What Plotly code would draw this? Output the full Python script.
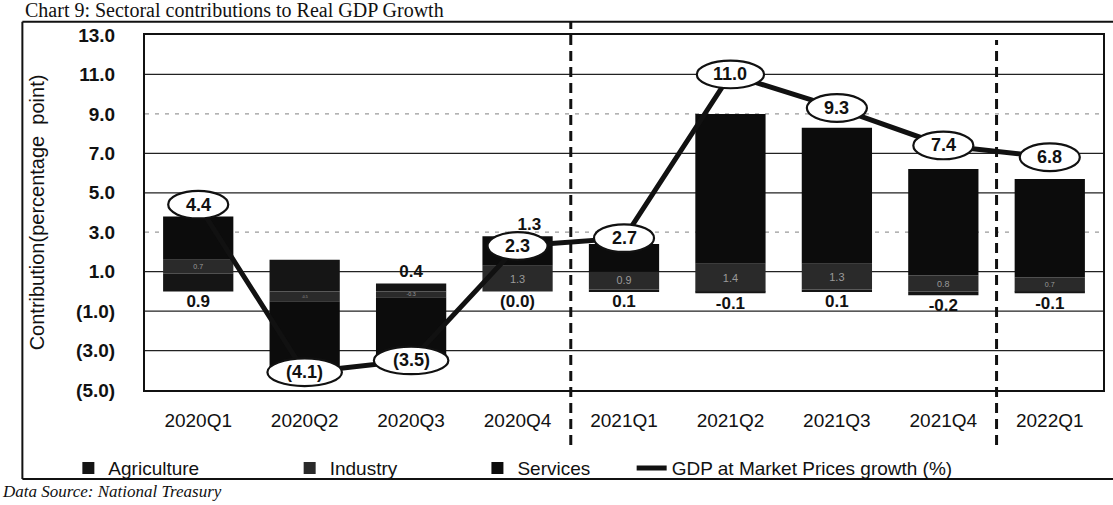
import plotly.graph_objects as go

# sectoral contributions to real GDP growth, percentage points

quarters = ["2020Q1", "2020Q2", "2020Q3", "2020Q4", "2021Q1",
            "2021Q2", "2021Q3", "2021Q4", "2022Q1"]
agriculture = [0.9, 1.6, 0.4, 0.0, 0.1, -0.1, 0.1, -0.2, -0.1]
industry = [0.7, -0.5, -0.3, 1.3, 0.9, 1.4, 1.3, 0.8, 0.7]
services = [2.2, -3.5, -3.2, 1.5, 1.4, 7.6, 6.9, 5.4, 5.0]
gdp_growth = [4.4, -4.1, -3.5, 2.3, 2.7, 11.0, 9.3, 7.4, 6.8]

agri_labels = ["0.9", "", "0.4", "(0.0)", "0.1", "-0.1", "0.1", "-0.2", "-0.1"]
ind_top_labels = ["", "", "", "1.3", "", "", "", "", ""]

y_ticks = [-5, -3, -1, 1, 3, 5, 7, 9, 11, 13]
faint_ticks = [3, 9]  # these gridlines came out faint/dotted in the print


def fmt(v):
    return f"({abs(v):.1f})" if v < 0 else f"{v:.1f}"


FONT = "Liberation Sans, Arial, sans-serif"
NARROW = "Liberation Sans Narrow, Arial Narrow, Liberation Sans, Arial, sans-serif"
SERIF = "Liberation Serif, Times New Roman, serif"

fig = go.Figure()

fig.add_trace(go.Bar(x=quarters, y=agriculture, name="Agriculture",
                     marker=dict(color="#151515", line=dict(width=0)),
                     legend="legend"))
fig.add_trace(go.Bar(x=quarters, y=industry, name="Industry",
                     marker=dict(color="#2a2a2a", line=dict(width=0)),
                     text=[f"{v:.1f}" for v in industry], textposition="inside",
                     insidetextanchor="middle", textangle=0,
                     textfont=dict(color="#9a9a9a", size=11, family=FONT),
                     legend="legend2"))
fig.add_trace(go.Bar(x=quarters, y=services, name="Services",
                     marker=dict(color="#0c0c0c", line=dict(width=0)),
                     legend="legend3"))
fig.add_trace(go.Scatter(x=quarters, y=gdp_growth, name="GDP at Market Prices growth (%)",
                         mode="lines", line=dict(color="#111", width=5),
                         legend="legend4"))

# agriculture labels under the bars (above when the bar dips far below zero)
lbl_y = []
for a, i, s in zip(agriculture, industry, services):
    neg = sum(v for v in (a, i, s) if v < 0)
    pos = sum(v for v in (a, i, s) if v > 0)
    lbl_y.append(neg - 0.6 if neg > -1 else pos + 0.55)
fig.add_trace(go.Scatter(x=quarters, y=lbl_y, mode="text", text=agri_labels,
                         textfont=dict(family=FONT, size=17, color="#111", weight="bold"),
                         showlegend=False, hoverinfo="skip"))

top_y = [sum(v for v in (a, i, s) if v > 0) + 0.55
         for a, i, s in zip(agriculture, industry, services)]
fig.add_trace(go.Scatter(x=quarters, y=top_y, mode="text", text=ind_top_labels,
                         textposition="middle right",
                         textfont=dict(family=FONT, size=17, color="#111", weight="bold"),
                         showlegend=False, hoverinfo="skip"))

# horizontal gridlines, drawn under the bars
for t in y_ticks[1:-1]:
    faint = t in faint_ticks
    fig.add_shape(type="line", xref="paper", yref="y", x0=0, x1=1, y0=t, y1=t, layer="below",
                  line=dict(color="#9a9a9a" if faint else "#222", width=1.2,
                            dash="4px,6px" if faint else "solid"))

# white ellipse labels on the GDP line
for k, v in enumerate(gdp_growth):
    txt = fmt(v)
    hw = 0.18 + 0.034 * len(txt)
    fig.add_shape(type="circle", xref="x", yref="y",
                  x0=k - hw, x1=k + hw, y0=v - 0.7, y1=v + 0.7,
                  fillcolor="white", line=dict(color="#111", width=2.2))
    fig.add_annotation(x=quarters[k], y=v, text=txt, showarrow=False,
                       font=dict(family=FONT, size=18, color="#111", weight="bold"))

# dashed separators where the year changes
for k in range(1, len(quarters)):
    if quarters[k][:4] != quarters[k - 1][:4]:
        top = 1.037 if k < 5 else 0.986
        fig.add_shape(type="line", xref="x", yref="paper",
                      x0=k - 0.5, x1=k - 0.5, y0=-0.155, y1=top,
                      line=dict(color="#111", width=3, dash="10px,6px"))

# outer frame of the scanned chart box (left, top, bottom edges)
frame = dict(type="line", xref="paper", yref="paper", line=dict(color="#111", width=2))
fig.add_shape(frame, x0=-0.128, x1=-0.128, y0=-0.251, y1=1.037)
fig.add_shape(frame, x0=-0.128, x1=1.02, y0=1.037, y1=1.037)
fig.add_shape(frame, x0=-0.128, x1=1.02, y0=-0.251, y1=-0.251)

fig.add_annotation(xref="paper", yref="paper", x=-0.127, y=1.07,
                   xanchor="left", yanchor="middle", showarrow=False,
                   text="Chart 9: Sectoral contributions to Real GDP Growth",
                   font=dict(family=SERIF, size=20, color="#111"))
fig.add_annotation(xref="paper", yref="paper", x=-0.151, y=-0.285,
                   xanchor="left", yanchor="middle", showarrow=False,
                   text="<i>Data Source: National Treasury</i>",
                   font=dict(family=SERIF, size=17, color="#111"))

legend_style = dict(orientation="h", yanchor="middle", y=-0.22, xanchor="left",
                    bgcolor="rgba(0,0,0,0)", itemwidth=30,
                    font=dict(family=NARROW, size=19, color="#111"))
fig.update_layout(
    barmode="relative",
    bargap=0.34,
    width=1113,
    height=505,
    margin=dict(l=145, r=10, t=35, b=115, autoexpand=False),
    paper_bgcolor="white",
    plot_bgcolor="white",
    font=dict(family=FONT, color="#111"),
    legend=dict(legend_style, x=-0.08),
    legend2=dict(legend_style, x=0.151),
    legend3=dict(legend_style, x=0.347),
    legend4=dict(legend_style, x=0.508),
    xaxis=dict(showgrid=False, showline=True, linecolor="#111", linewidth=2, mirror=True,
               tickfont=dict(family=FONT, size=19, color="#111"),
               ticks="", ticklabelstandoff=12, automargin=False),
    yaxis=dict(range=[-5, 13], tickvals=y_ticks, ticktext=[fmt(v) for v in y_ticks],
               showgrid=False, zeroline=False,
               showline=True, linecolor="#111", linewidth=2, mirror=True,
               ticks="", ticklabelstandoff=24, automargin=False,
               tickfont=dict(family=FONT, size=19, color="#111", weight="bold"),
               title=dict(text="Contribution(percentage  point)", standoff=26,
                          font=dict(family=FONT, size=20, color="#111"))),
)

# drop the page's default body margin so the figure sits at the window origin
fig.write_html("out.html", config={"displayModeBar": False},
               post_script="document.body.style.margin='0';")
